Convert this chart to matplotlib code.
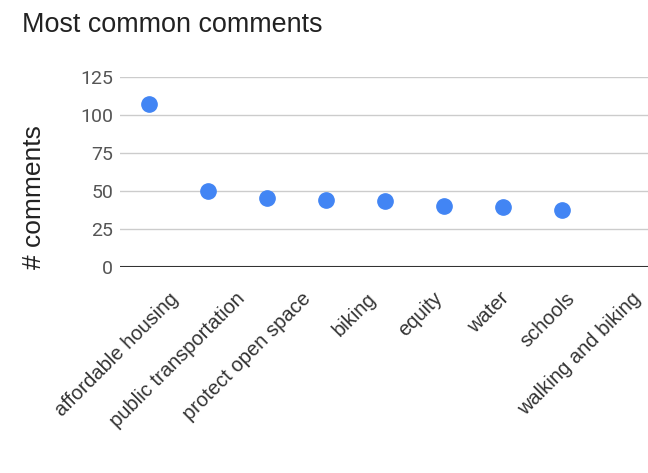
import matplotlib
matplotlib.use('Agg')
import matplotlib.pyplot as plt
from matplotlib.transforms import ScaledTranslation

# Most common comments
categorias = ['affordable housing', 'public transportation', 'protect open space',
              'biking', 'equity', 'water', 'schools', 'walking and biking']
comentarios = [107, 50, 45, 44, 43, 40, 39, 37]
yticks = [0, 25, 50, 75, 100, 125]

fig = plt.figure(figsize=(6.48, 4.73), dpi=100)
ax = fig.add_axes([120 / 648, 1 - 266.7 / 473, 1 - 120 / 648, (266.7 - 76.7) / 473])

index = range(len(categorias))
ax.plot(index, comentarios, 'o', color='#4285F4', markersize=11, zorder=3)

ax.set_xlim(-0.49, 8.46)
ax.set_ylim(0, 125)
ax.set_yticks(yticks)
ax.set_yticklabels([str(v) for v in yticks], fontsize=14, color='#555555', family='Roboto')
ax.set_xticks(list(index))
ax.set_xticklabels(categorias, rotation=45, ha='right', rotation_mode='anchor',
                   fontsize=14.5, color='#333333', family='Liberation Sans')
ax.tick_params(axis='both', length=0)
ax.tick_params(axis='y', pad=5)
ax.tick_params(axis='x', pad=16)

# os rótulos inclinados ficam cada vez mais à direita no original
for i, lbl in enumerate(ax.get_xticklabels()):
    dx = (20 + 7 * i) / 100
    lbl.set_transform(lbl.get_transform() + ScaledTranslation(dx, 0, fig.dpi_scale_trans))

ax.grid(True, axis='y', color='#cccccc', linewidth=1)
ax.set_axisbelow(True)
for s in ax.spines.values():
    s.set_visible(False)
ax.axhline(0, color='#333333', linewidth=1.5, zorder=2)

ax.set_ylabel('# comments', fontsize=19, color='#222222', family='Liberation Sans', va='center')
ax.yaxis.set_label_coords((34 - 120) / 528, (266.7 - 197.5) / 190)
fig.text(22 / 648, 1 - 32 / 473, 'Most common comments', fontsize=19.4, color='#222222',
         family='Liberation Sans', va='baseline', ha='left')

fig.savefig('out.png', dpi=100)
